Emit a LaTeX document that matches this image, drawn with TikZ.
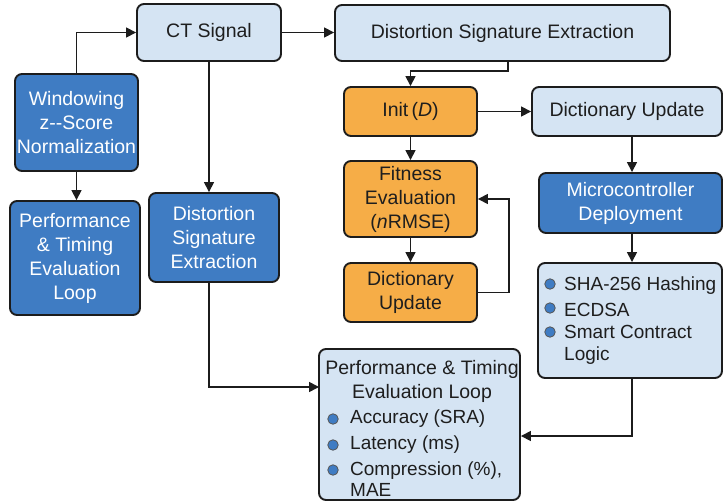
\documentclass[tikz,border=0pt]{standalone}
\usepackage{fontspec}
\setmainfont{Liberation Sans}
\usetikzlibrary{arrows.meta,calc}
\definecolor{lightbox}{HTML}{D5E4F3}
\definecolor{darkbox}{HTML}{3F7CC3}
\definecolor{orangebox}{HTML}{F6AD47}
\definecolor{edgecol}{HTML}{1C1C1C}
\definecolor{txt}{HTML}{1E1E1E}
\begin{document}
\begin{tikzpicture}[x=1pt,y=-1pt,
  box/.style={draw=edgecol, line width=1.9pt, rounded corners=7pt, align=center, inner sep=0pt, font=\fontsize{19.5}{24}\selectfont},
  light/.style={box, fill=lightbox, text=txt},
  dark/.style={box, fill=darkbox, text=white},
  orange/.style={box, fill=orangebox, text=txt},
  arr/.style={draw=edgecol, line width=1.6pt, -{Triangle[length=10pt,width=10pt]}},
  bul/.style={circle, draw=edgecol!75, line width=0.8pt, fill=darkbox, minimum size=10.5pt, inner sep=0pt},
  itm/.style={font=\fontsize{19}{22}\selectfont, text=txt, inner sep=0pt, align=left}]
\useasboundingbox (0,0) rectangle (724,503);
\fill[white] (0,0) rectangle (724,503);

% boxes
\node[light, minimum width=144pt, minimum height=57pt] (ct) at (209,32.5) {CT Signal};
\node[light, minimum width=335pt, minimum height=56pt] (dse) at (502.5,33) {Distortion Signature Extraction};
\node[dark, minimum width=123pt, minimum height=97pt] (win) at (76.5,122.5) {Windowing\\z-{}-Score\\Normalization};
\node[dark, minimum width=130pt, minimum height=114pt] (perfL) at (75,258) {Performance\\\&\ Timing\\Evaluation\\Loop};
\node[dark, minimum width=130pt, minimum height=89pt] (dsed) at (214,237.5) {Distortion\\Signature\\Extraction};
\node[orange, minimum width=133pt, minimum height=49pt] (init) at (410.5,111.5) {Init\,(\textit{D})};
\node[light, minimum width=190pt, minimum height=49pt] (du) at (627,111.5) {Dictionary Update};
\node[orange, minimum width=133pt, minimum height=76pt] (fit) at (410.5,199) {Fitness\\Evaluation\\(\textit{n}RMSE)};
\node[orange, minimum width=133pt, minimum height=59pt] (duo) at (410.5,292.5) {Dictionary\\Update};
\node[dark, minimum width=183pt, minimum height=60pt] (mc) at (630.5,203) {Microcontroller\\Deployment};
\node[light, minimum width=184pt, minimum height=115pt] (bl) at (630,320.5) {};
\node[light, minimum width=201pt, minimum height=151pt] (perfB) at (419.5,424.5) {};

% bullet list of right box
\node[bul] (b1) at (550,284) {};
\node[itm, anchor=west] (t1) at (564,286) {SHA-256 Hashing};
\node[bul] (b2) at (550,308) {};
\node[itm, anchor=west] (t2) at (564,310) {ECDSA};
\node[bul] (b3) at (550,332) {};
\node[itm, anchor=north west] (t3) at (564,325) {Smart Contract\\Logic};

% bottom evaluation box
\node[itm, align=center, font=\fontsize{19.5}{24}\selectfont] (pt) at (422,381) {Performance \& Timing\\Evaluation Loop};
\node[bul] (b4) at (333,419) {};
\node[itm, anchor=west] (t4) at (350,419) {Accuracy (SRA)};
\node[bul] (b5) at (333,445) {};
\node[itm, anchor=west] (t5) at (350,445) {Latency (ms)};
\node[bul] (b6) at (333,470) {};
\node[itm, anchor=north west, font=\fontsize{19}{20.5}\selectfont] (t6) at (350,462) {Compression (\%),\\MAE};

% helper coordinates
\coordinate (c1) at (508,71);
\coordinate (pIn) at (319,387);
\coordinate (rc) at (632,0);
\coordinate (c2) at (632,436);

% connectors
\draw[arr] (win.north) |- (ct.west);
\draw[arr] (ct.east) -- (ct.east -| dse.west);
\draw[arr] (win.south) -- (win.south |- perfL.north);
\draw[arr] (ct.south) -- (ct.south |- dsed.north);
\draw[arr] (ct.south |- dsed.south) |- (pIn);
\draw[arr] (dse.south -| c1) -- (c1) -| (init.north);
\draw[arr] (init.east) -- (du.west);
\draw[arr] (init.south) -- (fit.north);
\draw[arr] (fit.south) -- (duo.north);
\draw[arr] (duo.east) -- ++(31,0) |- (fit.east);
\draw[arr] (du.south -| rc) -- (mc.north -| rc);
\draw[arr] (mc.south -| rc) -- (bl.north -| rc);
\draw[arr] (bl.south -| rc) -- (c2) -- (c2 -| perfB.east);
\end{tikzpicture}
\end{document}
